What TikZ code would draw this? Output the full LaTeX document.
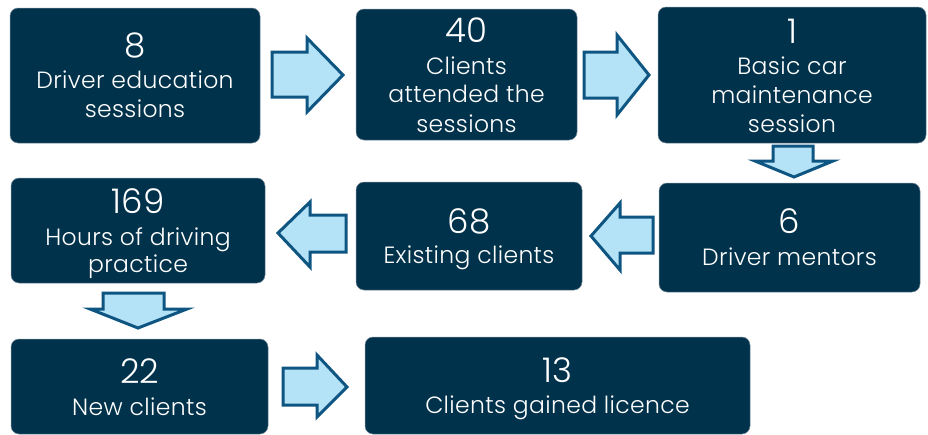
\documentclass[tikz,border=0pt]{standalone}
\usepackage{fontspec}
\setmainfont{Poppins}[UprightFont={* Light}]
\newfontfamily\lblfont{Poppins}[UprightFont={* Light}, LetterSpace=1.5]
\definecolor{boxfill}{RGB}{0,50,75}
\definecolor{boxedge}{RGB}{120,140,155}
\definecolor{arrfill}{RGB}{180,226,246}
\definecolor{arrdraw}{RGB}{15,85,130}
\tikzset{
  box/.style={fill=boxfill, draw=boxedge, line width=0.5pt, rounded corners=8pt, inner sep=0pt},
  num/.style={text=white, font=\fontsize{34}{34}\selectfont, anchor=base, inner sep=0pt},
  lbl/.style={text=white, font=\lblfont\fontsize{23.5}{29}\selectfont, anchor=base, inner sep=0pt},
  blockarrow/.style={fill=arrfill, draw=arrdraw, line width=3pt, line join=miter}
}
\begin{document}
\begin{tikzpicture}[x=1pt,y=-1pt]
\useasboundingbox (0,0) rectangle (928,434);
% boxes
\node[box, minimum width=250pt, minimum height=135pt] (b1) at (135,75.5) {};
\node[box, minimum width=221pt, minimum height=131pt] (b2) at (466.5,74.5) {};
\node[box, minimum width=268pt, minimum height=136pt] (b3) at (792,75) {};
\node[box, minimum width=254pt, minimum height=105pt] (b4) at (138,230.5) {};
\node[box, minimum width=226pt, minimum height=108pt] (b5) at (469,236) {};
\node[box, minimum width=261pt, minimum height=109pt] (b6) at (789.5,237.5) {};
\node[box, minimum width=257pt, minimum height=95pt] (b7) at (139.5,386.5) {};
\node[box, minimum width=385pt, minimum height=97pt] (b8) at (557.5,385.5) {};
% texts
\node[num] (n1) at (135,57) {8};
\node[lbl] (l1a) at (135,88) {Driver education};
\node[lbl] (l1b) at (135,117) {sessions};
\node[num] (n2) at (466.5,42) {40};
\node[lbl] (l2a) at (466.5,74) {Clients};
\node[lbl] (l2b) at (466.5,102) {attended the};
\node[lbl] (l2c) at (466.5,132) {sessions};
\node[num] (n3) at (792,43) {1};
\node[lbl] (l3a) at (792,74) {Basic car};
\node[lbl] (l3b) at (792,103) {maintenance};
\node[lbl] (l3c) at (792,132) {session};
\node[num] (n4) at (138,213) {169};
\node[lbl] (l4a) at (138,245) {Hours of driving};
\node[lbl] (l4b) at (138,272) {practice};
\node[num] (n5) at (469,233) {68};
\node[lbl] (l5a) at (469,263) {Existing clients};
\node[num] (n6) at (789.5,233) {6};
\node[lbl] (l6a) at (789.5,265) {Driver mentors};
\node[num] (n7) at (139.5,383) {22};
\node[lbl] (l7a) at (139.5,415) {New clients};
\node[num] (n8) at (557.5,382) {13};
\node[lbl] (l8a) at (557.5,413) {Clients gained licence};
% block arrows
\draw[blockarrow] (272,52) -- (307,52) -- (307,38) -- (343,75) -- (307,112) -- (307,97) -- (272,97) -- cycle;
\draw[blockarrow] (584,52) -- (617,52) -- (617,35) -- (649,75) -- (617,115) -- (617,98) -- (584,98) -- cycle;
\draw[blockarrow] (773,146) -- (813,146) -- (813,161) -- (833,161) -- (794,177) -- (755,161) -- (773,161) -- cycle;
\draw[blockarrow] (653,217) -- (620,217) -- (620,203) -- (591,236) -- (620,270) -- (620,253) -- (653,253) -- cycle;
\draw[blockarrow] (346,215) -- (310,215) -- (310,202) -- (278,233) -- (310,267) -- (310,252) -- (346,252) -- cycle;
\draw[blockarrow] (103,293) -- (164,293) -- (164,309) -- (187,309) -- (138,328) -- (90,309) -- (103,309) -- cycle;
\draw[blockarrow] (283,368) -- (317,368) -- (317,355) -- (347,387) -- (317,417) -- (317,405) -- (283,405) -- cycle;
\end{tikzpicture}
\end{document}
